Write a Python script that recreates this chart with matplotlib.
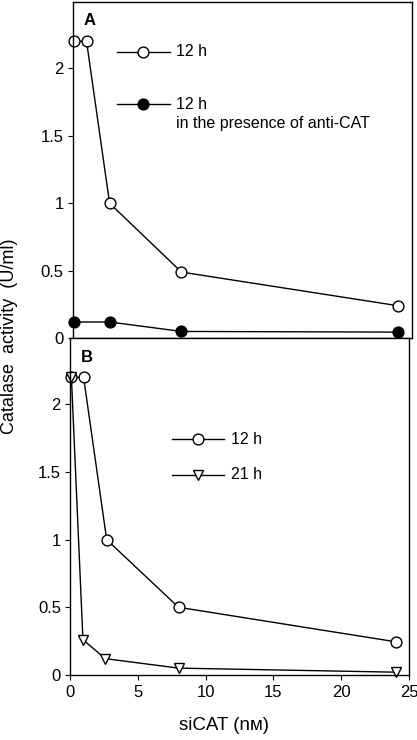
import matplotlib.pyplot as plt
from matplotlib.lines import Line2D

plt.rcParams['font.family'] = ['Liberation Sans', 'DejaVu Sans']

# panel A
a_open_x = [0.1, 1, 2.7, 8, 24]
a_open_y = [2.2, 2.2, 1.0, 0.49, 0.24]
a_fill_x = [0.1, 2.7, 8, 24]
a_fill_y = [0.12, 0.12, 0.05, 0.045]

# panel B
b_open_x = [0.1, 1, 2.7, 8, 24]
b_open_y = [2.2, 2.2, 1.0, 0.5, 0.245]
b_tri_x = [0.1, 0.95, 2.6, 8, 24]
b_tri_y = [2.2, 0.26, 0.12, 0.05, 0.02]

yticks = [0, 0.5, 1, 1.5, 2]
ytick_labels = ['0', '0.5', '1', '1.5', '2']
xticks = [0, 5, 10, 15, 20, 25]


def legend_entry(ax, x0, y, marker, mfc, label):
    h = Line2D([x0, x0 + 0.155], [y, y], transform=ax.transAxes, color='black', lw=1.0,
               clip_on=False)
    ax.add_line(h)
    ax.plot([x0 + 0.0775], [y], transform=ax.transAxes, marker=marker, ms=7.8, mfc=mfc,
            mec='black', mew=1.0, clip_on=False)
    ax.text(x0 + 0.175, y, label, transform=ax.transAxes, fontsize=11.5,
            va='center', ha='left')


def style_axis(ax):
    ax.set_xlim(0, 25)
    ax.set_ylim(0, 2.49)
    ax.set_yticks(yticks)
    ax.set_yticklabels(ytick_labels)
    ax.tick_params(axis='y', direction='out', length=3.6, width=0.8, labelsize=12, pad=3)
    for s in ax.spines.values():
        s.set_linewidth(1.0)


fig = plt.figure(figsize=(4.17, 7.40), dpi=100)
ax1 = fig.add_axes([0.175, 0.543, 0.813, 0.454])
ax2 = fig.add_axes([0.168, 0.088, 0.813, 0.455])

kw = dict(color='black', lw=1.0, ms=7.8, mec='black', mew=1.0, clip_on=False)

ax1.plot(a_open_x, a_open_y, marker='o', mfc='white', **kw)
ax1.plot(a_fill_x, a_fill_y, marker='o', mfc='black', **kw)
style_axis(ax1)
ax1.set_xticks([])
ax1.text(0.032, 0.968, 'A', transform=ax1.transAxes, fontsize=12, fontweight='bold',
         va='top', ha='left')
legend_entry(ax1, 0.13, 0.853, 'o', 'white', '12 h')
legend_entry(ax1, 0.13, 0.697, 'o', 'black', '12 h')
ax1.text(0.305, 0.638, 'in the presence of anti-CAT', transform=ax1.transAxes,
         fontsize=11.5, va='center', ha='left')

ax2.plot(b_open_x, b_open_y, marker='o', mfc='white', **kw)
ax2.plot(b_tri_x, b_tri_y, marker='v', mfc='white', **kw)
style_axis(ax2)
ax2.set_xticks(xticks)
ax2.tick_params(axis='x', direction='out', length=3.6, width=0.8, labelsize=12, pad=3.5)
ax2.text(0.032, 0.965, 'B', transform=ax2.transAxes, fontsize=12, fontweight='bold',
         va='top', ha='left')
legend_entry(ax2, 0.3, 0.70, 'o', 'white', '12 h')
legend_entry(ax2, 0.3, 0.595, 'v', 'white', '21 h')
ax2.set_xlabel('siCAT (nм)', fontsize=13.5)
ax2.xaxis.set_label_coords(0.455, -0.125)

fig.text(0.022, 0.545, 'Catalase  activity  (U/ml)', rotation=90, fontsize=13,
         va='center', ha='center')

fig.savefig('out.png', dpi=100)
